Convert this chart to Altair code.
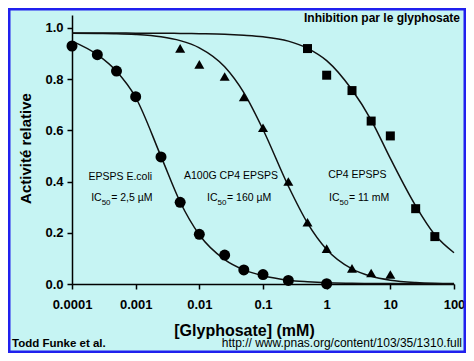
import altair as alt
import pandas as pd

# ---------------- data ----------------
x_ticks = [0.0001, 0.001, 0.01, 0.1, 1, 10, 100]
y_ticks = [0.0, 0.2, 0.4, 0.6, 0.8, 1.0]

# fitted curves, sampled along x (mM)
curve_x = [1e-4, 2.5e-4, 5e-4, 1e-3, 2.5e-3, 5e-3, 0.01, 0.025, 0.05, 0.1,
           0.25, 0.5, 1, 2.5, 5, 10, 25, 50, 100]
ecoli_curve = [0.948, 0.895, 0.830, 0.728, 0.498, 0.320, 0.192, 0.095, 0.055, 0.032,
               0.015, 0.009, 0.005, 0.003, 0.002, 0.0015, 0.001, 0.001, 0.001]
a100g_curve = [0.979, 0.978, 0.977, 0.974, 0.965, 0.950, 0.922, 0.848, 0.747, 0.603,
               0.382, 0.238, 0.135, 0.059, 0.030, 0.015, 0.006, 0.003, 0.002]
cp4_curve = [0.980, 0.980, 0.980, 0.979, 0.979, 0.978, 0.977, 0.975, 0.971, 0.965,
             0.948, 0.920, 0.872, 0.758, 0.640, 0.490, 0.305, 0.192, 0.122]

# measured points
ecoli_x = [1e-4, 2.5e-4, 5e-4, 1e-3, 2.5e-3, 5e-3, 0.01, 0.025, 0.05, 0.1, 0.25, 1]
ecoli_y = [0.929, 0.895, 0.831, 0.731, 0.496, 0.319, 0.194, 0.113, 0.055, 0.037, 0.014, 0.001]
a100g_x = [0.005, 0.01, 0.025, 0.05, 0.1, 0.25, 0.5, 1, 2.5, 5, 10]
a100g_y = [0.92, 0.857, 0.81, 0.73, 0.61, 0.40, 0.241, 0.138, 0.061, 0.043, 0.037]
cp4_x = [0.5, 1, 2.5, 5, 10, 25, 50]
cp4_y = [0.919, 0.815, 0.755, 0.636, 0.578, 0.294, 0.185]

# annotations
ann_names = ["EPSPS E.coli", "A100G CP4 EPSPS", "CP4 EPSPS"]
ann_name_x = [5.74e-4, 0.0314, 3.03]
ann_name_y = [0.405, 0.410, 0.414]
ic_x = [2.0e-4, 0.0132, 1.087]
ic_y = [0.325, 0.325, 0.325]
ic_rest = ["= 2,5 µM", "= 160 µM", "= 11 mM"]

title_text = "Inhibition par le glyphosate"
author_text = "Todd Funke et al."
url_text = "http:// www.pnas.org/content/103/35/1310.full"

# ---------------- styling ----------------
BG = "#C6F4F3"
FRAME = "#2020EE"
FONT = "Liberation Sans"
W, H = 382, 269

xscale = alt.Scale(type="log", domain=[1e-4, 100])
yscale = alt.Scale(domain=[0, 1.05], nice=False, zero=False)

n = len(curve_x)
curves_df = pd.DataFrame({
    "x": curve_x * 3,
    "y": ecoli_curve + a100g_curve + cp4_curve,
    "s": ["ecoli"] * n + ["a100g"] * n + ["cp4"] * n,
})

x_axis = alt.Axis(values=x_ticks, format="~g", title="[Glyphosate] (mM)",
                  labelPadding=9, titleX=172, titleY=51, titleAlign="center",
                  titleBaseline="alphabetic", labelFlush=False, labelOverlap=False)
y_axis = alt.Axis(values=y_ticks, format=".1f", title="Activité relative",
                  labelPadding=4, titleX=-42, titleY=133, titleAlign="center",
                  titleAngle=270, titleBaseline="alphabetic", labelFlush=False)

X = alt.X("x:Q", scale=xscale, axis=x_axis)
Y = alt.Y("y:Q", scale=yscale, axis=y_axis)
Xn = alt.X("x:Q", scale=xscale)
Yn = alt.Y("y:Q", scale=yscale)

curves = alt.Chart(curves_df).mark_line(
    color="#111111", strokeWidth=1.5, interpolate="monotone"
).encode(x=X, y=Y, detail="s:N")

def pts(xs, ys, shape, size):
    return alt.Chart(pd.DataFrame({"x": xs, "y": ys})).mark_point(
        shape=shape, size=size, filled=True, color="black", opacity=1
    ).encode(x=Xn, y=Yn)

p1 = pts(ecoli_x, ecoli_y, "circle", 121)
p2 = pts(a100g_x, a100g_y, "triangle-up", 100)
p3 = pts(cp4_x, cp4_y, "square", 81)

names_df = pd.DataFrame({"x": ann_name_x, "y": ann_name_y, "t": ann_names})
names = alt.Chart(names_df).mark_text(
    font=FONT, fontSize=10.5, color="black", align="center", baseline="alphabetic"
).encode(x=Xn, y=Yn, text="t:N")

ic_df = pd.DataFrame({"x": ic_x, "y": ic_y, "r": ic_rest})
ic_a = alt.Chart(ic_df).mark_text(
    font=FONT, fontSize=10.5, color="black", align="left", baseline="alphabetic"
).encode(x=Xn, y=Yn, text=alt.value("IC"))
ic_b = alt.Chart(ic_df).mark_text(
    font=FONT, fontSize=8, color="black", align="left", baseline="alphabetic",
    dx=10.5, dy=4
).encode(x=Xn, y=Yn, text=alt.value("50"))
ic_c = alt.Chart(ic_df).mark_text(
    font=FONT, fontSize=10.5, color="black", align="left", baseline="alphabetic",
    dx=20
).encode(x=Xn, y=Yn, text="r:N")

one = pd.DataFrame({"a": [0]})
frame = alt.Chart(one).mark_rect(
    fillOpacity=0, stroke=FRAME, strokeWidth=2.5
).encode(x=alt.value(-62.75), x2=alt.value(392.75),
         y=alt.value(-5.75), y2=alt.value(336.75))

title = alt.Chart(one).mark_text(
    font=FONT, fontSize=12, fontWeight="bold", color="black",
    align="right", baseline="alphabetic"
).encode(x=alt.value(388), y=alt.value(7), text=alt.value(title_text))
author = alt.Chart(one).mark_text(
    font=FONT, fontSize=11.5, fontWeight="bold", color="black",
    align="left", baseline="alphabetic"
).encode(x=alt.value(-60), y=alt.value(332), text=alt.value(author_text))
url = alt.Chart(one).mark_text(
    font=FONT, fontSize=12, color="black",
    align="right", baseline="alphabetic"
).encode(x=alt.value(390), y=alt.value(332), text=alt.value(url_text))

chart = alt.layer(
    curves, p1, p2, p3, names, ic_a, ic_b, ic_c, title, author, url, frame
).properties(
    width=W, height=H,
    padding={"left": 64, "top": 7, "right": 12, "bottom": 69},
    autosize=alt.AutoSizeParams(type="none"),
    background=BG,
).configure_view(
    strokeWidth=0
).configure_axis(
    grid=False,
    labelFont=FONT, labelFontSize=13, labelFontWeight="bold", labelColor="black",
    titleFont=FONT, titleFontWeight="bold", titleColor="black",
    domainColor="black", domainWidth=1.5,
    tickColor="black", tickWidth=1.5, tickSize=5,
).configure_axisX(
    titleFontSize=16
).configure_axisY(
    titleFontSize=15
)

chart.save("out.html", embed_options={"renderer": "svg", "actions": False})
